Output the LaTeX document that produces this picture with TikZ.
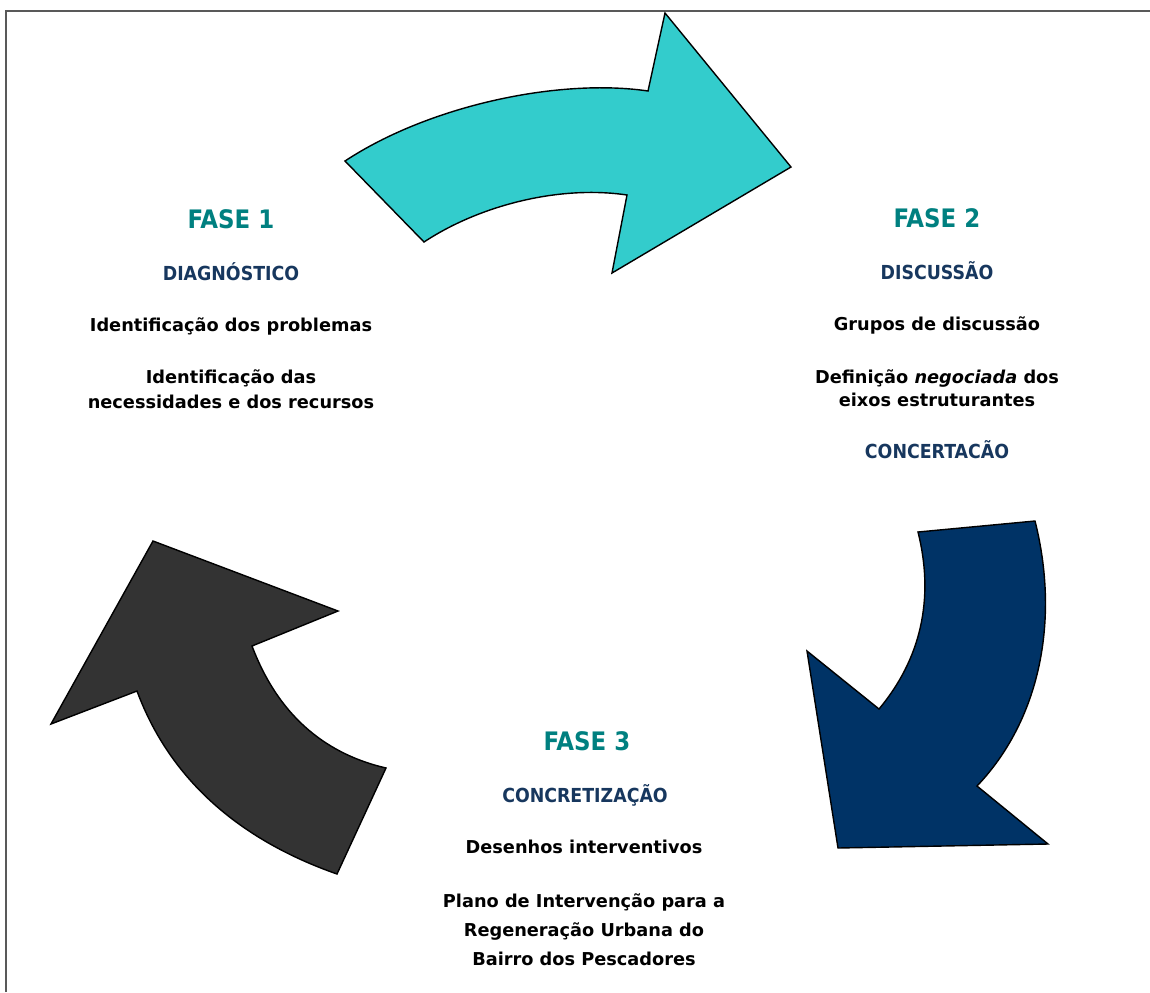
\documentclass[tikz,border=0pt]{standalone}
\usepackage{fontspec}
\setmainfont{DejaVu Sans Condensed}
\newfontfamily\corpofont{DejaVu Sans}
\definecolor{fasecol}{RGB}{0,128,128}
\definecolor{etapacol}{RGB}{23,55,94}
\definecolor{setaA}{RGB}{51,204,204}
\definecolor{setaB}{RGB}{0,51,102}
\definecolor{setaC}{RGB}{51,51,51}
\begin{document}
\begin{tikzpicture}[x=0.02cm, y=-0.02cm,
	fase/.style={anchor=base, text=fasecol, font=\fontsize{14.5}{17}\selectfont\bfseries},
	etapa/.style={anchor=base, text=etapacol, font=\fontsize{11}{13}\selectfont\bfseries},
	texto/.style={anchor=base, font=\corpofont\fontsize{10.1}{12}\selectfont\bfseries},
	seta/.style={draw=black, line width=0.8pt, line join=miter}]
		\useasboundingbox (0, 0) rectangle (1150, 992);
		\draw [line width=1.2pt, color=black!65] (6, 992) -- (6, 11) -- (1150, 11);

		% seta 1 -> 2
		\coordinate (a0) at (345, 161);
		\coordinate (a1) at (648, 91);
		\coordinate (a2) at (665, 13);
		\coordinate (a3) at (791, 167);
		\coordinate (a4) at (612, 273);
		\coordinate (a5) at (627, 195);
		\coordinate (a6) at (424, 242);
		\draw [seta, fill=setaA] (a0) .. controls (430, 105) and (560, 78) .. (a1) -- (a2) -- (a3) -- (a4) -- (a5) .. controls (560, 185) and (480, 205) .. (a6) -- cycle;

		% seta 2 -> 3
		\coordinate (b0) at (918, 532);
		\coordinate (b1) at (1035, 521);
		\coordinate (b2) at (977, 786);
		\coordinate (b3) at (1048, 844);
		\coordinate (b4) at (838, 848);
		\coordinate (b5) at (807, 651);
		\coordinate (b6) at (879, 709);
		\draw [seta, fill=setaB] (b0) -- (b1) .. controls (1060, 620) and (1040, 720) .. (b2) -- (b3) -- (b4) -- (b5) -- (b6) .. controls (920, 660) and (935, 600) .. (b0) -- cycle;

		% seta 3 -> 1
		\coordinate (c0) at (153, 541);
		\coordinate (c1) at (338, 611);
		\coordinate (c2) at (252, 646);
		\coordinate (c3) at (386, 768);
		\coordinate (c4) at (337, 874);
		\coordinate (c5) at (137, 691);
		\coordinate (c6) at (51, 724);
		\draw [seta, fill=setaC] (c0) -- (c1) -- (c2) .. controls (280, 720) and (330, 755) .. (c3) -- (c4) .. controls (240, 840) and (170, 780) .. (c5) -- (c6) -- cycle;

		% fase 1
		\node [fase] (fase1) at (231, 228) {FASE 1};
		\node [etapa] (diag) at (231, 280) {DIAGNÓSTICO};
		\node [texto] (prob) at (231, 331) {Identificação dos problemas};
		\node [texto] (necA) at (231, 383) {Identificação das};
		\node [texto] (necB) at (231, 408) {necessidades e dos recursos};

		% fase 2
		\node [fase] (fase2) at (937, 227) {FASE 2};
		\node [etapa] (disc) at (937, 279) {DISCUSSÃO};
		\node [texto] (grup) at (937, 330) {Grupos de discussão};
		\node [texto] (defA) at (937, 383) {Definição \textit{negociada} dos};
		\node [texto] (defB) at (937, 406) {eixos estruturantes};
		\node [etapa] (conc) at (937, 458) {CONCERTACÃO};

		% fase 3
		\node [fase] (fase3) at (587, 750) {FASE 3};
		\node [etapa] (concr) at (585, 802) {CONCRETIZAÇÃO};
		\node [texto] (des) at (584, 853) {Desenhos interventivos};
		\node [texto] (planA) at (584, 907) {Plano de Intervenção para a};
		\node [texto] (planB) at (584, 936) {Regeneração Urbana do};
		\node [texto] (planC) at (584, 965) {Bairro dos Pescadores};
\end{tikzpicture}
\end{document}
